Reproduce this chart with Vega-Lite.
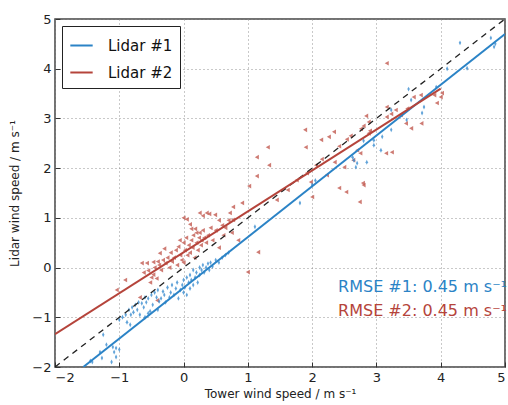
{
  "$schema": "https://vega.github.io/schema/vega-lite/v6.json",
  "width": 450,
  "height": 348,
  "autosize": {"type": "none"},
  "padding": {"left": 55, "top": 19, "right": 3, "bottom": 38},
  "background": "white",
  "config": {
    "view": {"stroke": "#444", "strokeWidth": 1.5},
    "font": "DejaVu Sans",
    "axis": {
      "gridColor": "#888", "gridDash": [1, 3], "gridWidth": 1, "gridOpacity": 0.9,
      "domain": false, "tickColor": "#333", "tickSize": -5, "labelPadding": 9,
      "labelFont": "DejaVu Sans", "labelFontSize": 13, "labelColor": "#222",
      "titleFont": "DejaVu Sans", "titleFontSize": 12, "titleFontWeight": "normal", "titleColor": "#222"
    }
  },
  "datasets": {
    "blue": [
      {"x": -1.45, "y": -1.88}, {"x": -1.42, "y": -1.9}, {"x": -1.3, "y": -1.7}, {"x": -1.27, "y": -1.82}, {"x": -1.25, "y": -1.35},
      {"x": -1.2, "y": -1.55}, {"x": -1.12, "y": -1.9}, {"x": -1.1, "y": -1.6}, {"x": -1.08, "y": -1.7}, {"x": -1.05, "y": -1.8},
      {"x": -1.05, "y": -1.62}, {"x": -1.0, "y": -1.65}, {"x": -1.0, "y": -1.05}, {"x": -0.95, "y": -1.0}, {"x": -0.9, "y": -0.95},
      {"x": -0.88, "y": -1.1}, {"x": -0.85, "y": -0.85}, {"x": -0.83, "y": -1.15}, {"x": -0.82, "y": -0.95}, {"x": -0.8, "y": -0.8},
      {"x": -0.78, "y": -0.9}, {"x": -0.75, "y": -0.75}, {"x": -0.72, "y": -0.85}, {"x": -0.7, "y": -0.7}, {"x": -0.68, "y": -0.95},
      {"x": -0.65, "y": -0.72}, {"x": -0.62, "y": -0.8}, {"x": -0.6, "y": -0.6}, {"x": -0.6, "y": -1.0}, {"x": -0.58, "y": -0.7},
      {"x": -0.55, "y": -0.62}, {"x": -0.55, "y": -0.92}, {"x": -0.52, "y": -0.88}, {"x": -0.5, "y": -0.55}, {"x": -0.48, "y": -0.75},
      {"x": -0.45, "y": -0.5}, {"x": -0.42, "y": -0.6}, {"x": -0.4, "y": -0.45}, {"x": -0.4, "y": -0.85}, {"x": -0.38, "y": -0.68},
      {"x": -0.35, "y": -0.62}, {"x": -0.32, "y": -0.48}, {"x": -0.3, "y": -0.55}, {"x": -0.28, "y": -0.7}, {"x": -0.25, "y": -0.4},
      {"x": -0.22, "y": -0.6}, {"x": -0.2, "y": -0.5}, {"x": -0.18, "y": -0.35}, {"x": -0.15, "y": -0.55}, {"x": -0.12, "y": -0.42},
      {"x": -0.1, "y": -0.3}, {"x": -0.08, "y": -0.62}, {"x": -0.05, "y": -0.45}, {"x": -0.02, "y": -0.35}, {"x": 0.0, "y": -0.25},
      {"x": 0.0, "y": -0.5}, {"x": 0.02, "y": -0.4}, {"x": 0.05, "y": -0.2}, {"x": 0.05, "y": -0.55}, {"x": 0.08, "y": -0.3},
      {"x": 0.1, "y": -0.15}, {"x": 0.1, "y": -0.42}, {"x": 0.12, "y": -0.25}, {"x": 0.15, "y": -0.35}, {"x": 0.15, "y": -0.05},
      {"x": 0.18, "y": -0.2}, {"x": 0.2, "y": -0.1}, {"x": 0.22, "y": -0.3}, {"x": 0.25, "y": 0.0}, {"x": 0.25, "y": -0.15},
      {"x": 0.28, "y": -0.05}, {"x": 0.3, "y": 0.05}, {"x": 0.32, "y": -0.1}, {"x": 0.35, "y": 0.0}, {"x": 0.38, "y": 0.08},
      {"x": 0.4, "y": -0.05}, {"x": 0.42, "y": 0.1}, {"x": 0.45, "y": 0.02}, {"x": 0.5, "y": 0.15}, {"x": 0.55, "y": 0.1},
      {"x": 0.6, "y": 0.2}, {"x": 0.65, "y": 0.25}, {"x": 0.7, "y": 0.3}, {"x": 1.11, "y": 0.82}, {"x": 1.81, "y": 1.3},
      {"x": 2.0, "y": 1.66}, {"x": 2.05, "y": 1.75}, {"x": 2.63, "y": 2.22}, {"x": 2.65, "y": 2.16}, {"x": 2.68, "y": 2.02},
      {"x": 2.7, "y": 2.1}, {"x": 2.8, "y": 2.55}, {"x": 2.85, "y": 2.12}, {"x": 2.96, "y": 2.56}, {"x": 2.96, "y": 2.46},
      {"x": 3.07, "y": 2.36}, {"x": 3.09, "y": 2.63}, {"x": 3.23, "y": 2.77}, {"x": 3.23, "y": 3.17}, {"x": 3.47, "y": 2.97},
      {"x": 3.5, "y": 3.59}, {"x": 3.54, "y": 3.37}, {"x": 3.71, "y": 3.11}, {"x": 3.74, "y": 3.23}, {"x": 3.93, "y": 3.63},
      {"x": 4.1, "y": 4.0}, {"x": 4.3, "y": 4.52}, {"x": 4.41, "y": 4.01}, {"x": 4.78, "y": 4.62}, {"x": 4.83, "y": 4.44}, {"x": 4.85, "y": 4.5}
    ],
    "red": [
      {"x": -1.04, "y": -0.45}, {"x": -0.91, "y": -0.25}, {"x": -0.68, "y": -0.6}, {"x": -0.65, "y": 0.09}, {"x": -0.62, "y": -0.1},
      {"x": -0.57, "y": 0.09}, {"x": -0.55, "y": -0.06}, {"x": -0.52, "y": -0.3}, {"x": -0.5, "y": -0.2}, {"x": -0.47, "y": 0.11},
      {"x": -0.47, "y": -0.14}, {"x": -0.45, "y": 0.0}, {"x": -0.42, "y": -0.22}, {"x": -0.41, "y": -0.66}, {"x": -0.4, "y": 0.12},
      {"x": -0.38, "y": 0.05}, {"x": -0.37, "y": 0.29}, {"x": -0.35, "y": -0.05}, {"x": -0.32, "y": 0.15}, {"x": -0.3, "y": 0.38},
      {"x": -0.28, "y": 0.09}, {"x": -0.25, "y": 0.2}, {"x": -0.22, "y": 0.0}, {"x": -0.2, "y": 0.3}, {"x": -0.18, "y": 0.12},
      {"x": -0.15, "y": 0.2}, {"x": -0.12, "y": 0.35}, {"x": -0.1, "y": 0.05}, {"x": -0.08, "y": 0.42}, {"x": -0.06, "y": 0.55},
      {"x": -0.05, "y": 0.25}, {"x": -0.03, "y": 0.15}, {"x": 0.0, "y": 1.0}, {"x": 0.0, "y": 0.5}, {"x": 0.0, "y": 0.1},
      {"x": 0.02, "y": 0.35}, {"x": 0.04, "y": 0.6}, {"x": 0.05, "y": 0.97}, {"x": 0.06, "y": 0.25}, {"x": 0.08, "y": 0.45},
      {"x": 0.1, "y": 0.87}, {"x": 0.1, "y": 0.3}, {"x": 0.12, "y": 0.78}, {"x": 0.12, "y": 0.55}, {"x": 0.14, "y": 0.4},
      {"x": 0.15, "y": 0.65}, {"x": 0.17, "y": 0.2}, {"x": 0.18, "y": 0.78}, {"x": 0.2, "y": 0.5}, {"x": 0.2, "y": 0.7},
      {"x": 0.22, "y": 0.35}, {"x": 0.24, "y": 0.6}, {"x": 0.25, "y": 0.7}, {"x": 0.25, "y": 1.1}, {"x": 0.27, "y": 0.45},
      {"x": 0.28, "y": 0.55}, {"x": 0.3, "y": 1.04}, {"x": 0.3, "y": 0.75}, {"x": 0.32, "y": 0.6}, {"x": 0.35, "y": 0.5},
      {"x": 0.36, "y": 1.1}, {"x": 0.38, "y": 0.65}, {"x": 0.4, "y": 1.08}, {"x": 0.42, "y": 0.8}, {"x": 0.45, "y": 0.55},
      {"x": 0.49, "y": 1.06}, {"x": 0.5, "y": 0.75}, {"x": 0.55, "y": 0.95}, {"x": 0.55, "y": 0.4}, {"x": 0.6, "y": 0.85},
      {"x": 0.62, "y": 0.65}, {"x": 0.65, "y": 0.8}, {"x": 0.7, "y": 0.95}, {"x": 0.72, "y": 1.1}, {"x": 0.75, "y": 0.7},
      {"x": 0.77, "y": 0.96}, {"x": 0.77, "y": 1.22}, {"x": 0.85, "y": 0.55}, {"x": 0.91, "y": 1.3}, {"x": 1.0, "y": -0.09},
      {"x": 1.02, "y": 1.64}, {"x": 1.14, "y": 1.84}, {"x": 1.14, "y": 2.22}, {"x": 1.16, "y": 0.31}, {"x": 1.31, "y": 2.42},
      {"x": 1.33, "y": 2.06}, {"x": 1.45, "y": 1.36}, {"x": 1.62, "y": 1.56}, {"x": 1.76, "y": 1.76}, {"x": 1.89, "y": 2.77},
      {"x": 1.9, "y": 2.42}, {"x": 1.92, "y": 1.9}, {"x": 1.98, "y": 1.72}, {"x": 2.0, "y": 1.42}, {"x": 2.06, "y": 2.06},
      {"x": 2.14, "y": 2.57}, {"x": 2.15, "y": 2.18}, {"x": 2.23, "y": 1.86}, {"x": 2.26, "y": 2.63}, {"x": 2.34, "y": 2.73},
      {"x": 2.35, "y": 2.12}, {"x": 2.42, "y": 2.44}, {"x": 2.42, "y": 1.6}, {"x": 2.5, "y": 2.02}, {"x": 2.53, "y": 1.52},
      {"x": 2.54, "y": 2.58}, {"x": 2.6, "y": 2.65}, {"x": 2.64, "y": 2.16}, {"x": 2.7, "y": 2.36}, {"x": 2.74, "y": 1.32},
      {"x": 2.75, "y": 2.3}, {"x": 2.76, "y": 2.79}, {"x": 2.79, "y": 1.7}, {"x": 2.8, "y": 2.85}, {"x": 2.8, "y": 1.66},
      {"x": 2.84, "y": 3.05}, {"x": 2.88, "y": 2.93}, {"x": 2.88, "y": 2.7}, {"x": 2.9, "y": 2.75}, {"x": 3.15, "y": 2.3},
      {"x": 3.16, "y": 4.11}, {"x": 3.16, "y": 3.23}, {"x": 3.16, "y": 3.03}, {"x": 3.23, "y": 3.09}, {"x": 3.24, "y": 2.32},
      {"x": 3.3, "y": 3.17}, {"x": 3.38, "y": 3.07}, {"x": 3.46, "y": 2.9}, {"x": 3.48, "y": 3.2}, {"x": 3.54, "y": 2.8},
      {"x": 3.58, "y": 3.43}, {"x": 3.69, "y": 3.47}, {"x": 3.7, "y": 2.9}, {"x": 3.9, "y": 3.47}, {"x": 3.94, "y": 3.31},
      {"x": 4.0, "y": 3.43}, {"x": 4.02, "y": 3.51}
    ],
    "fits": [
      {"x": -1.56, "y": -2.0, "series": "Lidar #1"}, {"x": 5.0, "y": 4.7, "series": "Lidar #1"},
      {"x": -2.0, "y": -1.34, "series": "Lidar #2"}, {"x": 4.0, "y": 3.6, "series": "Lidar #2"}
    ],
    "ref": [{"x": -2.0, "y": -2.0}, {"x": 5.0, "y": 5.0}],
    "notes": [
      {"x": 5.0, "y": -0.39, "label": "RMSE #1: 0.45 m s⁻¹", "series": "Lidar #1"},
      {"x": 5.0, "y": -0.87, "label": "RMSE #2: 0.45 m s⁻¹", "series": "Lidar #2"}
    ]
  },
  "encoding": {
    "x": {"field": "x", "type": "quantitative", "scale": {"domain": [-2, 5], "nice": false, "zero": false},
      "axis": {"title": "Tower wind speed / m s⁻¹", "values": [-2, -1, 0, 1, 2, 3, 4, 5], "format": "d", "titlePadding": 4}},
    "y": {"field": "y", "type": "quantitative", "scale": {"domain": [-2, 5], "nice": false, "zero": false},
      "axis": {"title": "Lidar wind speed / m s⁻¹", "values": [-2, -1, 0, 1, 2, 3, 4, 5], "format": "d", "titlePadding": 10}}
  },
  "layer": [
    {"data": {"name": "red"}, "mark": {"type": "point", "shape": "triangle-left", "filled": true, "size": 22, "color": "#c25a50", "opacity": 0.8, "clip": true}},
    {"data": {"name": "blue"}, "mark": {"type": "point", "shape": "M0,-1L0.5,0L0,1L-0.5,0Z", "filled": true, "size": 24, "color": "#3a8ccf", "opacity": 0.8, "clip": true}},
    {"data": {"name": "ref"}, "mark": {"type": "line", "color": "#222", "strokeDash": [6, 5], "strokeWidth": 1.3, "clip": true}, "encoding": {}},
    {"data": {"name": "fits"}, "mark": {"type": "line", "strokeWidth": 2, "clip": true},
      "encoding": {"color": {"field": "series", "type": "nominal",
        "scale": {"domain": ["Lidar #1", "Lidar #2"], "range": ["#2b83c6", "#b5443b"]},
        "legend": {"title": null, "orient": "top-left", "offset": 7, "symbolType": "stroke", "symbolSize": 500, "symbolStrokeWidth": 2,
          "labelFontSize": 15, "labelFont": "DejaVu Sans", "labelColor": "#111", "strokeColor": "#222", "fillColor": "white", "padding": 7, "rowPadding": 6, "labelOffset": 14}}}},
    {"data": {"name": "notes"}, "mark": {"type": "text", "align": "right", "baseline": "middle", "fontSize": 16, "dx": 2, "font": "DejaVu Sans"},
      "encoding": {"text": {"field": "label"}, "color": {"field": "series", "type": "nominal", "legend": null}}}
  ]
}
